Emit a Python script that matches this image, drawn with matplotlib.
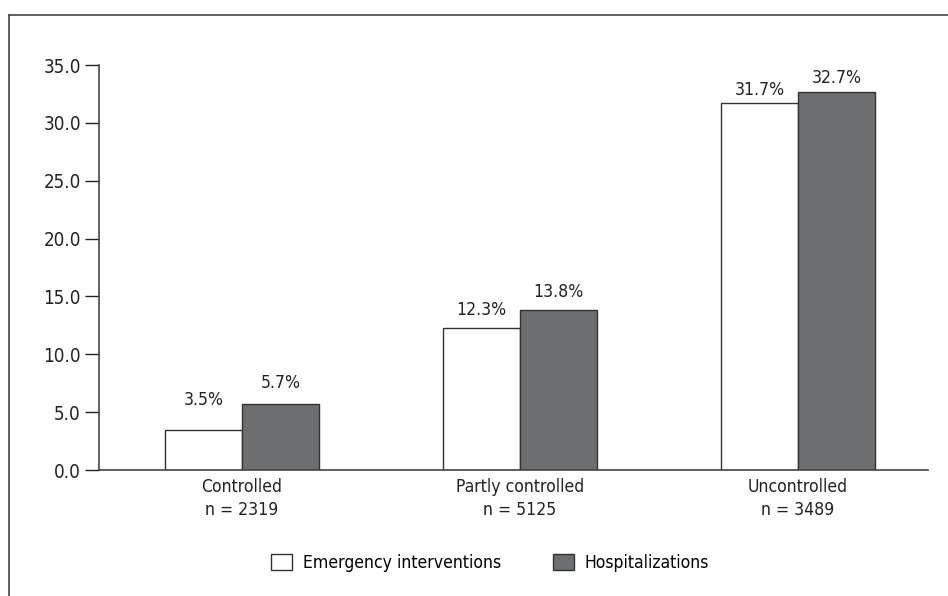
import matplotlib
matplotlib.use("Agg")
import matplotlib.pyplot as plt
import numpy as np
from matplotlib.lines import Line2D
from matplotlib.patches import Patch

plt.rcParams['font.family'] = ['DejaVu Sans']
plt.rcParams['font.stretch'] = 'condensed'

# data
groups = ['Controlled\nn = 2319', 'Partly controlled\nn = 5125', 'Uncontrolled\nn = 3489']
emergency = [3.5, 12.3, 31.7]
hospital = [5.7, 13.8, 32.7]
series_names = ['Emergency interventions', 'Hospitalizations']

# label gap above each bar, in points (the original places them by hand)
gap_emerg = [15, 6, 3]
gap_hosp = [9, 7, 3.5]

edge = '#333333'
gray = '#6d6e70'

fig = plt.figure(figsize=(9.48, 5.96), dpi=100)
ax = fig.add_axes([0.1044, 0.2114, 0.8746, 0.6795])

x = np.arange(len(groups))
w = 0.277
b1 = ax.bar(x - w / 2, emergency, w, color='white', edgecolor=edge, linewidth=1.0)
b2 = ax.bar(x + w / 2, hospital, w, color=gray, edgecolor=edge, linewidth=1.0)

for bars, vals, gaps in [(b1, emergency, gap_emerg), (b2, hospital, gap_hosp)]:
    for r, v, g in zip(bars, vals, gaps):
        ax.annotate(f'{v}%', (r.get_x() + r.get_width() / 2, v),
                    xytext=(0, g), textcoords='offset points',
                    ha='center', va='bottom', fontsize=12.6, color='#222222')

ax.set_xlim(-0.514, 2.468)
ax.set_ylim(0, 35)
ax.set_yticks(np.arange(0, 36, 5))
ax.set_yticklabels([f'{t:.1f}' for t in np.arange(0, 36, 5)])
ax.set_xticks(x)
ax.set_xticklabels(groups, fontsize=12.6, linespacing=1.3)
ax.tick_params(axis='x', length=0, pad=6, colors='#222222')
ax.tick_params(axis='y', length=10, width=1.0, pad=3, labelsize=13.5, colors='#222222')
for s in ['top', 'right']:
    ax.spines[s].set_visible(False)
for s in ['left', 'bottom']:
    ax.spines[s].set_color('#444444')
    ax.spines[s].set_linewidth(1.2)

handles = [Patch(facecolor='white', edgecolor=edge, linewidth=1.0),
           Patch(facecolor=gray, edgecolor=edge, linewidth=1.0)]
fig.legend(handles, series_names, loc='center', bbox_to_anchor=(0.517, 0.055),
           ncol=2, frameon=False, fontsize=12.6, handlelength=1.2, handleheight=1.0,
           columnspacing=2.95, handletextpad=0.63)

# outer frame (cropped on right and bottom)
fig.add_artist(Line2D([0.0095, 0.0095], [0, 0.975], color='#444444', lw=1.2, transform=fig.transFigure))
fig.add_artist(Line2D([0.0095, 1.0], [0.975, 0.975], color='#444444', lw=1.2, transform=fig.transFigure))

fig.savefig('out.png', dpi=100)
